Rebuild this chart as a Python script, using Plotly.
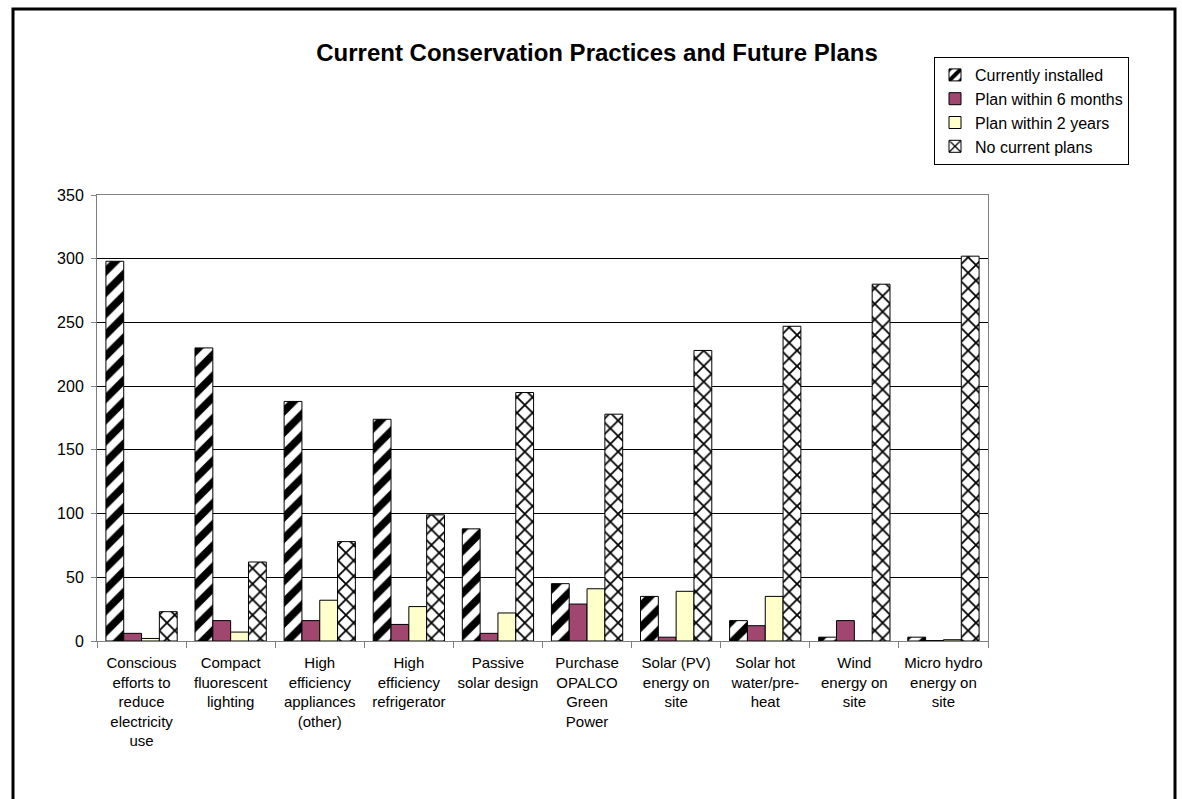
import plotly.graph_objects as go

categories = [
    "Conscious<br>efforts to<br>reduce<br>electricity<br>use",
    "Compact<br>fluorescent<br>lighting",
    "High<br>efficiency<br>appliances<br>(other)",
    "High<br>efficiency<br>refrigerator",
    "Passive<br>solar design",
    "Purchase<br>OPALCO<br>Green<br>Power",
    "Solar (PV)<br>energy on<br>site",
    "Solar hot<br>water/pre-<br>heat",
    "Wind<br>energy on<br>site",
    "Micro hydro<br>energy on<br>site",
]

currently_installed = [298, 230, 188, 174, 88, 45, 35, 16, 3, 3]
plan_6_months = [6, 16, 16, 13, 6, 29, 3, 12, 16, 0.3]
plan_2_years = [2, 7, 32, 27, 22, 41, 39, 35, 0, 1]
no_current_plans = [23, 62, 78, 99, 195, 178, 228, 247, 280, 302]

y_ticks = [0, 50, 100, 150, 200, 250, 300, 350]

FONT = "Liberation Sans, Arial, sans-serif"
outline = dict(color="#000000", width=1)

fig = go.Figure()
fig.add_trace(go.Bar(
    name="Currently installed", x=categories, y=currently_installed,
    legendgroup="a",
    marker=dict(color="white", line=outline,
                pattern=dict(shape="/", fgcolor="black", bgcolor="white",
                             fgopacity=1, size=15, solidity=0.5)),
))
fig.add_trace(go.Bar(
    name="Plan within 6 months", x=categories, y=plan_6_months,
    legendgroup="b",
    marker=dict(color="#A0466F", line=outline),
))
fig.add_trace(go.Bar(
    name="Plan within 2 years", x=categories, y=plan_2_years,
    legendgroup="c",
    marker=dict(color="#FFFFCC", line=outline),
))
fig.add_trace(go.Bar(
    name="No current plans", x=categories, y=no_current_plans,
    legendgroup="d",
    marker=dict(color="white", line=outline,
                pattern=dict(shape="x", fgcolor="black", bgcolor="white",
                             fgopacity=1, size=11, solidity=0.3)),
))

W, H = 1182, 799
L, R, T, B = 97, 988, 195, 641
pw, ph = R - L, B - T


def px_x(p):
    return (p - L) / pw


def px_y(p):
    return (B - p) / ph


fig.update_layout(
    width=W, height=H,
    margin=dict(l=L, r=W - R, t=T, b=H - B, pad=0),
    paper_bgcolor="white", plot_bgcolor="white",
    barmode="group", bargap=0.2, bargroupgap=0,
    font=dict(family=FONT, color="black", size=15),
    title=dict(text="<b>Current Conservation Practices and Future Plans</b>",
               x=597 / W, xanchor="center", y=1 - 53 / H, yanchor="middle",
               font=dict(size=24, family=FONT)),
    legend=dict(x=px_x(934), y=px_y(57), xanchor="left", yanchor="top",
                bordercolor="black", borderwidth=1, bgcolor="white",
                font=dict(size=16, family=FONT), tracegroupgap=0,
                itemwidth=30),
    showlegend=True,
    xaxis=dict(type="category", tickson="boundaries", ticks="outside",
               ticklen=6, tickcolor="#808080", showline=True,
               linecolor="#808080", mirror=True, showgrid=False,
               tickangle=0, ticklabelstandoff=8,
               tickfont=dict(size=15, family=FONT)),
    yaxis=dict(range=[0, 350], tickvals=y_ticks, ticks="outside", ticklen=5,
               tickcolor="#808080", showline=True, linecolor="#808080",
               mirror=True, showgrid=True, gridcolor="#000000", gridwidth=1,
               zeroline=False, ticklabelstandoff=4,
               tickfont=dict(size=16, family=FONT)),
    shapes=[dict(type="rect", xref="paper", yref="paper",
                 x0=px_x(13), x1=px_x(1175), y0=px_y(810), y1=px_y(9),
                 line=dict(color="black", width=3), fillcolor="rgba(0,0,0,0)",
                 layer="above")],
)

fig.write_html("out.html")
